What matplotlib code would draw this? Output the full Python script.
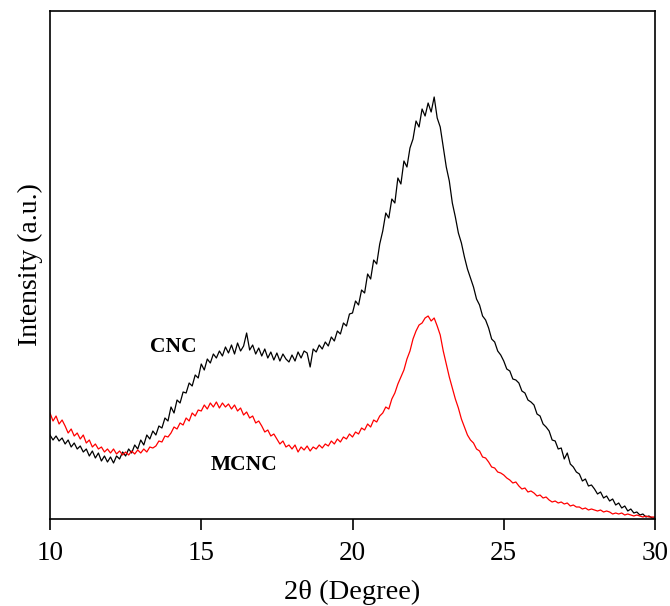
import numpy as np
import matplotlib
matplotlib.use("Agg")
import matplotlib.pyplot as plt

# 2-theta grid, 0.1 degree step
two_theta = np.round(np.arange(10.0, 30.05, 0.1), 1)

# CNC intensity (a.u.)
cnc = [84, 79, 83, 78, 81, 75, 79, 72, 76, 70,
       73, 67, 70, 63, 68, 61, 66, 58, 63, 57,
       62, 56, 63, 60, 67, 63, 70, 66, 74, 70,
       79, 74, 84, 80, 88, 84, 93, 91, 101, 98,
       112, 106, 119, 116, 127, 126, 136, 133, 144, 141,
       155, 149, 160, 156, 165, 161, 168, 163, 172, 166,
       174, 165, 176, 168, 173, 186, 169, 174, 165, 171,
       163, 170, 161, 167, 159, 166, 158, 165, 160, 157,
       164, 158, 167, 161, 168, 166, 152, 170, 167, 174,
       170, 177, 173, 182, 178, 188, 185, 196, 193, 205,
       206, 218, 214, 229, 226, 245, 240, 259, 255, 275,
       288, 306, 301, 320, 316, 341, 335, 358, 352, 371,
       380, 398, 392, 410, 403, 416, 407, 422, 401, 392,
       372, 352, 338, 316, 302, 286, 276, 262, 250, 241,
       232, 220, 214, 203, 199, 191, 180, 177, 168, 164,
       158, 150, 148, 140, 139, 136, 128, 126, 119, 117,
       114, 105, 103, 95, 92, 88, 79, 78, 70, 71,
       60, 66, 55, 52, 47, 45, 38, 40, 33, 34,
       30, 25, 27, 21, 23, 18, 20, 14, 16, 11,
       13, 8, 10, 6, 7, 4, 5, 2, 3, 1, 1]

# MCNC intensity (a.u.)
mcnc = [106, 98, 103, 95, 99, 93, 86, 90, 83, 86,
        80, 84, 76, 79, 72, 75, 70, 72, 67, 70,
        66, 70, 65, 68, 64, 67, 64, 68, 65, 69,
        66, 70, 67, 72, 71, 73, 78, 77, 83, 82,
        86, 92, 90, 96, 94, 101, 98, 106, 103, 109,
        108, 114, 110, 116, 112, 117, 111, 116, 112, 115,
        110, 114, 108, 111, 104, 107, 101, 103, 96, 98,
        93, 87, 89, 83, 85, 80, 75, 78, 72, 74,
        70, 74, 67, 72, 69, 73, 68, 72, 70, 74,
        71, 75, 73, 78, 75, 80, 77, 82, 80, 85,
        82, 87, 85, 91, 89, 95, 92, 99, 97, 103,
        106, 112, 110, 120, 126, 135, 142, 149, 160, 168,
        180, 188, 194, 196, 201, 203, 198, 201, 193, 184,
        168, 155, 142, 131, 120, 111, 100, 92, 84, 79,
        76, 70, 68, 62, 61, 57, 52, 51, 47, 46,
        44, 41, 39, 36, 37, 33, 30, 31, 27, 28,
        26, 23, 24, 21, 22, 19, 17, 18, 16, 17,
        15, 16, 13, 14, 12, 12, 10, 11, 9, 10,
        9, 8, 9, 7, 8, 7, 5, 6, 5, 6,
        4, 5, 4, 3, 4, 3, 2, 3, 2, 2, 2]

x_ticks = [10, 15, 20, 25, 30]

plt.rcParams['font.family'] = ['Liberation Serif', 'DejaVu Serif']

fig = plt.figure(figsize=(6.7, 6.06), dpi=100)
ax = fig.add_axes([50 / 670, 87 / 606, 605 / 670, 508 / 606])

ax.plot(two_theta, cnc, color='black', lw=0.9)
ax.plot(two_theta, mcnc, color='red', lw=0.9)

ax.text(14.07, 172, 'CNC', fontsize=15.5, fontweight='bold', ha='center', va='center')
ax.text(16.41, 54, 'MCNC', fontsize=15.5, fontweight='bold', ha='center', va='center')

ax.set_xlim(10, 30)
ax.set_ylim(0, 508)
ax.set_xticks(x_ticks)
ax.set_xticklabels([str(t) for t in x_ticks])
ax.set_yticks([])
ax.tick_params(axis='x', direction='out', length=8, width=1.2, labelsize=19.5, pad=8)
for s in ax.spines.values():
    s.set_linewidth(1.2)

ax.set_xlabel('2θ (Degree)', fontsize=20.5, labelpad=10)
ax.set_ylabel('Intensity (a.u.)', fontsize=20, labelpad=5)

fig.savefig('out.png', dpi=100)
